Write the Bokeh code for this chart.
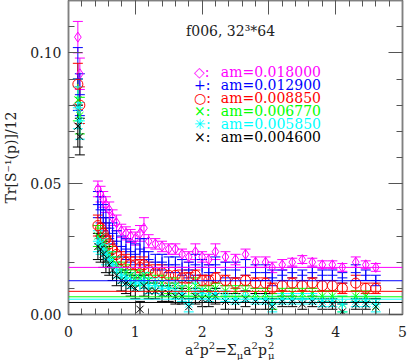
from bokeh.plotting import figure
from bokeh.layouts import column
from bokeh.models import (ColumnDataSource, Whisker, TeeHead, Span, Label, Range1d, Div,
                          LinearAxis, SingleIntervalTicker, NumeralTickFormatter,
                          CustomJSTickFormatter)
from bokeh.embed import file_html
from bokeh.resources import INLINE

# ---------------- data ----------------
am_values = [0.018000, 0.012900, 0.008850, 0.006770, 0.005850, 0.004600]
colors = ["#ff00ff", "#0000ff", "#ff0000", "#00ff00", "#00ffff", "#000000"]
markers = ["diamond", "cross", "circle", "x", "asterisk", "x"]
legend_symbols = ["\u25c7", "+", "\u25cb", "\u00d7", "\u2733", "\u00d7"]

p2 = [0.14, 0.17, 0.44, 0.48, 0.52, 0.56, 0.61, 0.66, 0.72, 0.79, 0.86, 0.93, 1.0, 1.07,
      1.13, 1.2, 1.3, 1.4, 1.5, 1.6, 1.7, 1.8, 1.9, 2.0, 2.1, 2.2, 2.35, 2.5, 2.65, 2.8,
      2.95, 3.05, 3.2, 3.35, 3.5, 3.65, 3.8, 3.95, 4.1, 4.3, 4.45, 4.6]

y_m018 = [0.106, 0.092, 0.048, 0.046, 0.044, 0.042, 0.040, 0.037, 0.035, 0.032, 0.031, 0.030,
          0.029, 0.031, 0.033, 0.028, 0.027, 0.026, 0.025, 0.025, 0.023, 0.022, 0.024, 0.022,
          0.021, 0.024, 0.022, 0.021, 0.023, 0.020, 0.020, 0.018, 0.019, 0.020, 0.021, 0.020,
          0.019, 0.019, 0.018, 0.020, 0.019, 0.018]
e_m018 = [0.006, 0.006, 0.003, 0.003, 0.003, 0.003, 0.003, 0.003, 0.003, 0.0025, 0.0025, 0.0025,
          0.0025, 0.003, 0.004, 0.0025, 0.002, 0.002, 0.002, 0.002, 0.002, 0.002, 0.003, 0.002,
          0.002, 0.003, 0.002, 0.002, 0.002, 0.002, 0.002, 0.002, 0.002, 0.0015, 0.0015, 0.0015,
          0.0015, 0.0015, 0.0015, 0.002, 0.0015, 0.0015]

y_m0129 = [0.090, 0.084, 0.042, 0.040, 0.037, 0.035, 0.033, 0.031, 0.028, 0.026, 0.025, 0.024,
           0.023, 0.025, 0.024, 0.021, 0.020, 0.020, 0.019, 0.019, 0.018, 0.017, 0.019, 0.018,
           0.016, 0.019, 0.017, 0.017, 0.018, 0.016, 0.016, 0.014, 0.015, 0.016, 0.015, 0.016,
           0.015, 0.015, 0.014, 0.016, 0.015, 0.013]
e_m0129 = [0.012, 0.008, 0.005, 0.005, 0.005, 0.005, 0.004, 0.004, 0.004, 0.004, 0.004, 0.004,
           0.004, 0.004, 0.005, 0.003, 0.003, 0.003, 0.003, 0.003, 0.003, 0.003, 0.004, 0.003,
           0.003, 0.003, 0.003, 0.003, 0.003, 0.003, 0.003, 0.003, 0.002, 0.002, 0.002, 0.002,
           0.002, 0.002, 0.002, 0.003, 0.002, 0.002]

y_m00885 = [0.088, 0.080, 0.034, 0.033, 0.031, 0.029, 0.027, 0.025, 0.023, 0.021, 0.020, 0.019,
            0.019, 0.018, 0.019, 0.017, 0.016, 0.016, 0.015, 0.015, 0.014, 0.014, 0.015, 0.013,
            0.013, 0.014, 0.013, 0.012, 0.013, 0.012, 0.012, 0.010, 0.011, 0.012, 0.011, 0.012,
            0.011, 0.011, 0.010, 0.012, 0.010, 0.010]
e_m00885 = [0.008, 0.007, 0.004, 0.004, 0.004, 0.004, 0.003, 0.003, 0.003, 0.003, 0.003, 0.003,
            0.003, 0.003, 0.003, 0.003, 0.003, 0.003, 0.003, 0.003, 0.003, 0.002, 0.002, 0.002,
            0.002, 0.002, 0.002, 0.002, 0.002, 0.002, 0.002, 0.002, 0.002, 0.002, 0.002, 0.002,
            0.002, 0.002, 0.002, 0.003, 0.002, 0.002]

y_m00677 = [0.082, 0.076, 0.030, 0.029, 0.027, 0.025, 0.023, 0.021, 0.019, 0.017, 0.016, 0.015,
            0.014, 0.014, 0.015, 0.013, 0.012, 0.012, 0.011, 0.011, 0.010, 0.010, 0.011, 0.009,
            0.009, 0.010, 0.009, 0.009, 0.009, 0.008, 0.008, 0.005, 0.008, 0.008, 0.008, 0.008,
            0.007, 0.007, 0.004, 0.007, 0.007, 0.003]
e_m00677 = [0.008, 0.007, 0.004, 0.004, 0.004, 0.004, 0.003, 0.003, 0.003, 0.003, 0.003, 0.003,
            0.003, 0.003, 0.003, 0.003, 0.003, 0.003, 0.003, 0.003, 0.003, 0.003, 0.003, 0.002,
            0.002, 0.002, 0.002, 0.002, 0.002, 0.002, 0.002, 0.003, 0.002, 0.002, 0.002, 0.002,
            0.002, 0.002, 0.003, 0.002, 0.002, 0.003]

y_m00585 = [0.079, 0.074, 0.028, 0.027, 0.025, 0.023, 0.021, 0.019, 0.017, 0.015, 0.014, 0.013,
            0.012, 0.012, 0.013, 0.011, 0.011, 0.010, 0.010, 0.009, 0.008, 0.004, 0.009, 0.008,
            0.007, 0.008, 0.007, 0.006, 0.007, 0.006, 0.006, 0.004, 0.006, 0.006, 0.006, 0.006,
            0.005, 0.005, 0.004, 0.005, 0.005, 0.004]
e_m00585 = [0.008, 0.007, 0.004, 0.004, 0.004, 0.004, 0.003, 0.003, 0.003, 0.003, 0.003, 0.003,
            0.003, 0.003, 0.003, 0.003, 0.003, 0.003, 0.003, 0.003, 0.003, 0.003, 0.003, 0.002,
            0.002, 0.002, 0.002, 0.002, 0.002, 0.002, 0.002, 0.003, 0.002, 0.002, 0.002, 0.002,
            0.002, 0.002, 0.003, 0.002, 0.002, 0.003]

y_m0046 = [0.072, 0.068, 0.026, 0.025, 0.023, 0.021, 0.019, 0.017, 0.015, 0.013, 0.012, 0.011,
           0.010, 0.002, 0.011, 0.009, 0.009, 0.008, 0.008, 0.007, 0.007, 0.003, 0.007, 0.006,
           0.006, 0.007, 0.005, 0.005, 0.006, 0.005, 0.005, 0.003, 0.005, 0.005, 0.004, 0.005,
           0.004, 0.004, 0.001, 0.004, 0.004, 0.003]
e_m0046 = [0.008, 0.007, 0.005, 0.005, 0.005, 0.005, 0.004, 0.004, 0.004, 0.004, 0.004, 0.004,
           0.004, 0.003, 0.004, 0.003, 0.003, 0.003, 0.003, 0.003, 0.003, 0.003, 0.003, 0.003,
           0.003, 0.003, 0.003, 0.003, 0.003, 0.003, 0.003, 0.003, 0.002, 0.002, 0.002, 0.002,
           0.002, 0.002, 0.003, 0.002, 0.002, 0.003]

series_y = [y_m018, y_m0129, y_m00885, y_m00677, y_m00585, y_m0046]
series_e = [e_m018, e_m0129, e_m00885, e_m00677, e_m00585, e_m0046]

title_text = "f006, 32\u00b3*64"
y_label = "Tr[S\u207b\u00b9(p)]/12"

# ---------------- figure ----------------
FONT = "DejaVu Serif"
TXT = "#222222"
FRAME = "#808080"

p = figure(width=407, height=340, output_backend="svg", toolbar_location=None,
           x_range=Range1d(0, 5), y_range=Range1d(0, 0.12),
           min_border_left=67, min_border_right=5, min_border_top=0, min_border_bottom=26,
           x_axis_location=None, y_axis_location=None)
p.xgrid.visible = False
p.ygrid.visible = False
p.outline_line_color = FRAME
p.outline_line_width = 1.5
p.background_fill_color = "white"
p.border_fill_color = "white"


def style_axis(ax, labels=True):
    ax.axis_line_color = FRAME
    ax.axis_line_width = 1.5
    ax.major_tick_line_color = "#555555"
    ax.minor_tick_line_color = "#555555"
    ax.major_tick_in = 14
    ax.major_tick_out = 0
    ax.minor_tick_in = 6
    ax.minor_tick_out = 0
    ax.major_label_text_font = FONT
    ax.major_label_text_color = TXT
    ax.major_label_text_font_size = "14px"
    ax.axis_label_text_font = FONT
    ax.axis_label_text_font_style = "normal"
    ax.axis_label_text_color = TXT
    ax.axis_label_text_font_size = "14px"
    if not labels:
        ax.formatter = CustomJSTickFormatter(code="return ''")
        ax.major_label_standoff = 0


xb = LinearAxis(ticker=SingleIntervalTicker(interval=1, num_minor_ticks=5))
style_axis(xb)
xb.major_label_standoff = 11
p.add_layout(xb, "below")

xt = LinearAxis(ticker=SingleIntervalTicker(interval=1, num_minor_ticks=5))
style_axis(xt, labels=False)
p.add_layout(xt, "above")

yl = LinearAxis(ticker=SingleIntervalTicker(interval=0.05, num_minor_ticks=5),
                formatter=NumeralTickFormatter(format="0.00"), axis_label=y_label)
style_axis(yl)
yl.major_label_standoff = 7
yl.axis_label_standoff = 8
p.add_layout(yl, "left")

yr = LinearAxis(ticker=SingleIntervalTicker(interval=0.05, num_minor_ticks=5))
style_axis(yr, labels=False)
p.add_layout(yr, "right")

# horizontal lines at the quark mass values
for am, c in zip(am_values, colors):
    p.add_layout(Span(location=am, dimension="width", line_color=c, line_width=1))

# data with error bars
for ys, es, c, mk in zip(series_y, series_e, colors, markers):
    src = ColumnDataSource(dict(x=p2, y=ys,
                                up=[a + b for a, b in zip(ys, es)],
                                lo=[a - b for a, b in zip(ys, es)]))
    p.add_layout(Whisker(source=src, base="x", upper="up", lower="lo",
                         line_color=c, line_width=1,
                         upper_head=TeeHead(size=10, line_color=c, line_width=1),
                         lower_head=TeeHead(size=10, line_color=c, line_width=1)))
    p.scatter("x", "y", source=src, marker=mk, size=10, fill_color=None,
              line_color=c, line_width=1)

# title text inside plot
p.add_layout(Label(x=1.76, y=0.1085, text=title_text, text_font=FONT,
                   text_font_size="14px", text_color=TXT, text_baseline="alphabetic"))

# legend as colored text rows
for i, (am, c, s) in enumerate(zip(am_values, colors, legend_symbols)):
    yy = 0.0928 - i * 0.00497
    p.add_layout(Label(x=1.88, y=yy, text=f"{s}:", text_font=FONT, text_font_size="14px",
                       text_color=c, text_baseline="alphabetic"))
    p.add_layout(Label(x=2.28, y=yy, text=f"am={am:.6f}", text_font=FONT,
                       text_font_size="14px", text_color=c, text_baseline="alphabetic"))

# x-axis label with sub/superscripts as HTML below the figure
stack = ('<span style="display:inline-flex;flex-direction:column;font-size:10px;'
         'line-height:10px;vertical-align:6px;margin-left:1px">'
         '<span>2</span><span>\u03bc</span></span>')
sup = '<sup style="font-size:10px;line-height:0;vertical-align:6px">2</sup>'
sub = '<sub style="font-size:10px;line-height:0;vertical-align:-4px">\u03bc</sub>'
xlabel_html = (f'<div style="position:relative;top:1px;left:185px;white-space:nowrap;'
               f'font-family:\'DejaVu Serif\';font-size:14px;line-height:16px;color:{TXT}">'
               f'a{sup}p{sup}=\u03a3{sub}a{sup}p{stack}</div>')
xlabel = Div(text=xlabel_html, width=407, height=20, margin=0)

layout = column(p, xlabel, spacing=0)
open("out.html", "w").write(file_html(layout, INLINE))
